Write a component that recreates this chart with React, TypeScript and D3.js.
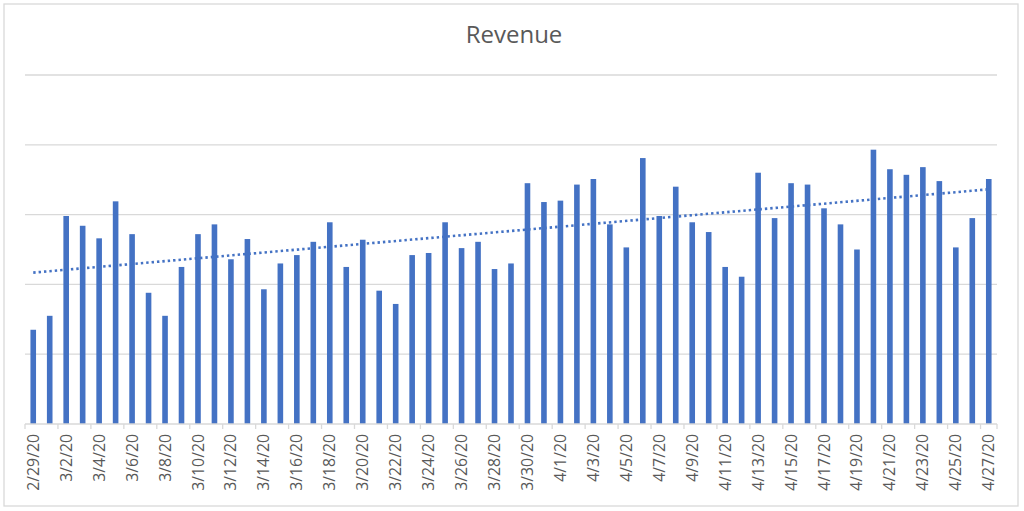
import React from "react";
import * as d3 from "d3";

const title = "Revenue";

const dates: string[] = (() => {
  const out: string[] = [];
  for (let i = 0; i < 59; i++) {
    const d = new Date(2020, 1, 29 + i);
    out.push(`${d.getMonth() + 1}/${d.getDate()}/20`);
  }
  return out;
})();

const revenue: number[] = [
  1350, 1550, 2980, 2840, 2660, 3190, 2720, 1880, 1550, 2250,
  2720, 2860, 2360, 2650, 1930, 2300, 2420, 2610, 2890, 2250,
  2640, 1910, 1720, 2420, 2450, 2890, 2520, 2610, 2220, 2300,
  3450, 3180, 3200, 3430, 3510, 2860, 2530, 3810, 2980, 3400,
  2890, 2750, 2250, 2110, 3600, 2950, 3450, 3430, 3090, 2860,
  2500, 3930, 3650, 3570, 3680, 3480, 2530, 2950, 3510,
];

const yTicks: number[] = [0, 1000, 2000, 3000, 4000, 5000];

const W = 1024;
const H = 511;
const left = 25;
const right = 997;
const top = 75;
const bottom = 424;

export default function App() {
  const x = d3.scaleBand<string>().domain(dates).range([left, right]).paddingInner(0.66).paddingOuter(0.33);
  const y = d3.scaleLinear().domain([0, 5000]).range([bottom, top]);

  // linear trendline (least squares)
  const n = revenue.length;
  const idx = d3.range(n);
  const mx = d3.mean(idx) as number;
  const my = d3.mean(revenue) as number;
  const sxy = d3.sum(idx, (i) => (i - mx) * (revenue[i] - my));
  const sxx = d3.sum(idx, (i) => (i - mx) * (i - mx));
  const slope = sxy / sxx;
  const icpt = my - slope * mx;
  const trend = idx.map((i) => [x(dates[i])! + x.bandwidth() / 2, y(icpt + slope * i)] as [number, number]);
  const line = d3.line();
  const step = x.step();

  return (
    <svg width={W} height={H} style={{ position: "absolute", left: 0, top: 0, background: "#fff" }}>
      <rect x={4} y={4} width={1014} height={502} fill="#fff" stroke="#D9D9D9" strokeWidth={1.3} />
      <text x={514} y={43} textAnchor="middle" fontFamily="'Open Sans', sans-serif" fontSize={24} fill="#595959">
        {title}
      </text>
      {yTicks.slice(1).map((t) => (
        <line key={t} x1={left} x2={right} y1={y(t)} y2={y(t)} stroke="#D9D9D9" strokeWidth={1.3} />
      ))}
      {revenue.map((v, i) => (
        <rect key={i} x={x(dates[i])!} y={y(v)} width={x.bandwidth()} height={y(0) - y(v)} fill="#4472C4" />
      ))}
      <path d={line([trend[0], trend[n - 1]]) || ""} fill="none" stroke="#4472C4" strokeWidth={2.6} strokeDasharray="2.4 3" />
      <line x1={left} x2={right} y1={bottom} y2={bottom} stroke="#D9D9D9" strokeWidth={1.3} />
      {dates.map((d, i) =>
        i % 2 === 0 ? (
          <line key={"t" + i} x1={left + i * step} x2={left + i * step} y1={bottom} y2={bottom + 5} stroke="#D9D9D9" strokeWidth={1.3} />
        ) : null
      )}
      <line x1={right} x2={right} y1={bottom} y2={bottom + 5} stroke="#D9D9D9" strokeWidth={1.3} />
      {dates.map((d, i) =>
        i % 2 === 0 ? (
          <text
            key={"l" + i}
            transform={`translate(${x(d)! + x.bandwidth() / 2},${bottom + 10}) rotate(-90)`}
            textAnchor="end"
            dy="0.35em"
            fontFamily="'Open Sans', sans-serif"
            fontSize={15.8}
            fill="#595959"
          >
            {d}
          </text>
        ) : null
      )}
    </svg>
  );
}
